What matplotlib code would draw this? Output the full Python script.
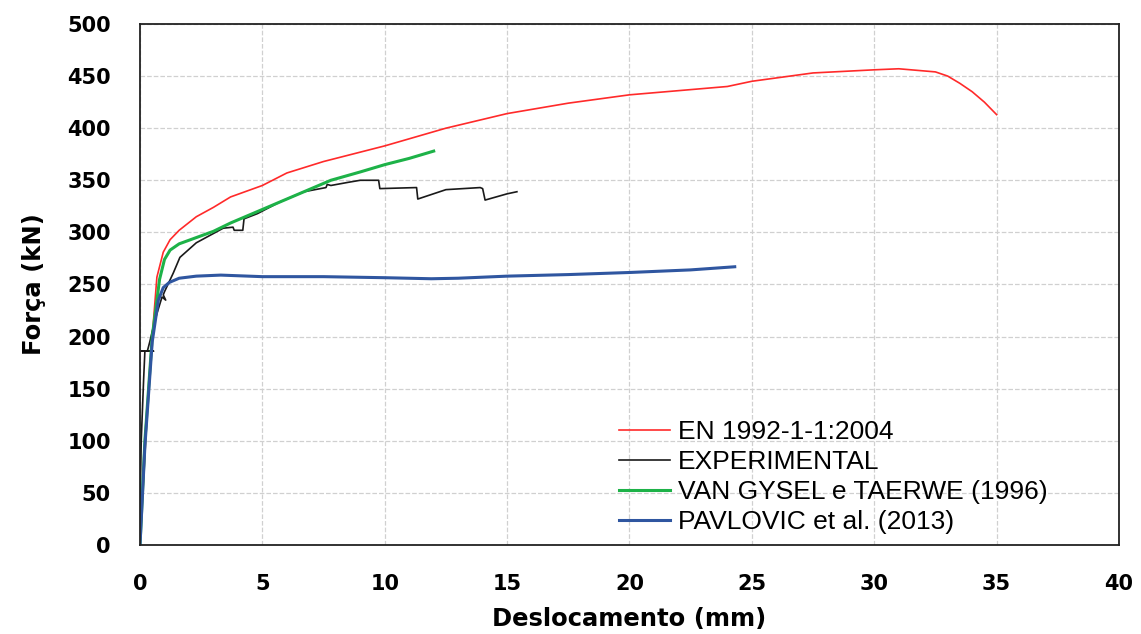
import numpy as np
import matplotlib.pyplot as plt

# EN 1992-1-1:2004
en_x = [0, 0.3, 0.5, 0.69, 0.95, 1.23, 1.6, 2.3, 3.0, 3.7, 5.0, 6.0, 7.5, 10.0, 12.5, 15.0, 17.5, 20.0, 22.5, 24.0, 25.0, 27.5, 30.0, 31.0, 32.5, 33.0, 33.5, 34.0, 34.5, 35.0]
en_y = [0, 130, 200, 257, 281, 293, 302, 315, 324, 334, 345, 357, 368, 383, 400, 414, 424, 432, 437, 440, 445, 453, 456, 457, 454, 450, 443, 435, 425, 413]

# EXPERIMENTAL
exp_x = [0, 0.02, 0.05, 0.1, 0.15, 0.2, 0.05, 0.55, 0.3, 0.4, 0.5, 0.69, 0.9, 1.05, 0.95, 1.0, 1.36, 1.63, 2.3, 3.4, 3.8, 3.85, 4.2, 4.25, 4.8, 5.7, 6.7, 7.6, 7.65, 7.8, 8.5, 9.0, 9.75, 9.8, 11.3, 11.35, 12.5, 13.9, 14.0, 14.1, 15.0, 15.4]
exp_y = [0, 60, 100, 130, 160, 186, 186, 186, 186, 195, 205, 222, 238, 235, 240, 243, 261, 276, 290, 304, 305, 302, 302, 313, 318, 329, 339, 343, 346, 345, 348, 350, 350, 342, 343, 332, 341, 343, 342, 331, 337, 339]

# VAN GYSEL e TAERWE (1996)
vg_x = [0, 0.2, 0.5, 0.8, 1.0, 1.23, 1.6, 2.3, 3.0, 3.7, 4.8, 5.5, 6.4, 7.0, 7.8, 9.0, 10.0, 11.0, 12.0]
vg_y = [0, 100, 200, 255, 274, 283, 289, 295, 301, 309, 320, 327, 336, 342, 350, 358, 365, 371, 378]

# PAVLOVIC et al. (2013)
pv_x = [0, 0.2, 0.5, 0.75, 0.95, 1.2, 1.6, 2.3, 3.3, 5.0, 7.5, 10.0, 11.9, 13.0, 15.0, 17.5, 20.0, 22.5, 24.3]
pv_y = [0, 95, 195, 235, 247, 252, 256, 258, 259, 257.5, 257.5, 256.5, 255.5, 256, 258, 259.5, 261.5, 264, 267]

fig = plt.figure(figsize=(11.41, 6.34), dpi=100)
ax = fig.add_axes([0.1227, 0.1404, 0.8580, 0.8218])

ax.plot(en_x, en_y, color='#ff2a2a', lw=1.2, label='EN 1992-1-1:2004')
ax.plot(exp_x, exp_y, color='#1a1a1a', lw=1.2, label='EXPERIMENTAL')
ax.plot(vg_x, vg_y, color='#1db248', lw=2.2, label='VAN GYSEL e TAERWE (1996)')
ax.plot(pv_x, pv_y, color='#2f56a0', lw=2.2, label='PAVLOVIC et al. (2013)')

ax.set_xlim(0, 40)
ax.set_ylim(0, 500)
ax.set_xticks(np.arange(0, 41, 5))
ax.set_yticks(np.arange(0, 501, 50))
ax.grid(True, color='#d0d0d0', linestyle='--', linewidth=0.9)
ax.set_axisbelow(True)
ax.tick_params(length=0, pad=21, labelsize=15)
for lab in ax.get_xticklabels() + ax.get_yticklabels():
    lab.set_fontweight('bold')
for s in ax.spines.values():
    s.set_color('#222222')
    s.set_linewidth(1.3)

ax.set_xlabel('Deslocamento (mm)', fontsize=17.5, fontweight='bold', labelpad=9)
ax.set_ylabel('Força (kN)', fontsize=17.5, fontweight='bold', labelpad=15)

leg = ax.legend(loc='lower left', bbox_to_anchor=(0.479, 0.0), frameon=False,
                borderaxespad=0,
                prop={'family': 'Liberation Sans', 'size': 19},
                handlelength=1.9, handletextpad=0.3, labelspacing=0.23)

fig.savefig('out.png', dpi=100)
